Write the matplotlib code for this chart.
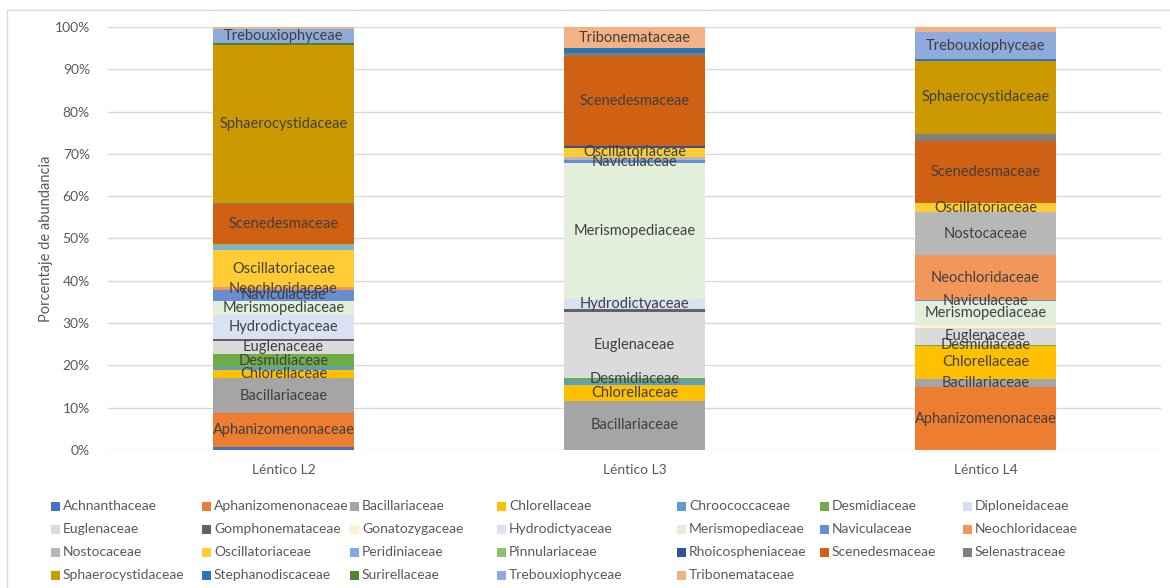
import numpy as np
import matplotlib
matplotlib.use("Agg")
import matplotlib.pyplot as plt
from matplotlib.patches import Rectangle

plt.rcParams["font.family"] = ["Lato", "DejaVu Sans"]

sites = ["Léntico L2", "Léntico L3", "Léntico L4"]

families = [
    "Achnanthaceae", "Aphanizomenonaceae", "Bacillariaceae", "Chlorellaceae",
    "Chroococcaceae", "Desmidiaceae", "Diploneidaceae", "Euglenaceae",
    "Gomphonemataceae", "Gonatozygaceae", "Hydrodictyaceae", "Merismopediaceae",
    "Naviculaceae", "Neochloridaceae", "Nostocaceae", "Oscillatoriaceae",
    "Peridiniaceae", "Pinnulariaceae", "Rhoicospheniaceae", "Scenedesmaceae",
    "Selenastraceae", "Sphaerocystidaceae", "Stephanodiscaceae", "Surirellaceae",
    "Trebouxiophyceae", "Tribonemataceae",
]

colors = [
    "#4472C4", "#ED7D31", "#A5A5A5", "#FFC000",
    "#5B9BD5", "#70AD47", "#D6DFF2", "#DBDBDB",
    "#636363", "#FFF2CC", "#D9E2F3", "#E2EFDA",
    "#698ED0", "#F1975A", "#B7B7B7", "#FFCD33",
    "#7CAFDD", "#8CC168", "#2F5597", "#D06014",
    "#7F7F7F", "#CC9A00", "#2E75B6", "#548235",
    "#8FAADC", "#F4B183",
]

# relative abundance (%) per family, order as in `families`
l2 = [0.64, 8.0, 8.3, 2.0, 0.6, 3.1, 0.0, 3.2, 0.3, 0.0, 5.7, 3.5,
      2.5, 0.6, 0.0, 8.9, 0.95, 0.5, 0.0, 9.4, 0.25, 37.3, 0.0, 0.55,
      3.3, 0.41]
l3 = [0.0, 0.0, 11.6, 3.8, 1.0, 0.55, 0.0, 15.6, 0.7, 0.0, 2.4, 32.1,
      0.8, 0.0, 0.8, 2.0, 0.0, 0.0, 0.4, 21.4, 0.8, 0.0, 1.0, 0.0,
      0.0, 5.05]
l4 = [0.0, 14.8, 2.1, 7.7, 0.0, 0.33, 0.0, 4.0, 0.0, 0.55, 0.0, 5.75,
      0.15, 10.7, 10.1, 2.2, 0.0, 0.0, 0.0, 14.6, 1.75, 17.3, 0.47, 0.0,
      6.2, 1.3]

# families that carry a name label inside each bar
labels_l2 = ["Aphanizomenonaceae", "Bacillariaceae", "Chlorellaceae", "Desmidiaceae",
             "Euglenaceae", "Hydrodictyaceae", "Merismopediaceae", "Naviculaceae",
             "Neochloridaceae", "Oscillatoriaceae", "Scenedesmaceae",
             "Sphaerocystidaceae", "Trebouxiophyceae"]
labels_l3 = ["Bacillariaceae", "Chlorellaceae", "Desmidiaceae", "Euglenaceae",
             "Hydrodictyaceae", "Merismopediaceae", "Naviculaceae",
             "Oscillatoriaceae", "Scenedesmaceae", "Tribonemataceae"]
labels_l4 = ["Aphanizomenonaceae", "Bacillariaceae", "Chlorellaceae", "Desmidiaceae",
             "Euglenaceae", "Merismopediaceae", "Naviculaceae", "Neochloridaceae",
             "Nostocaceae", "Oscillatoriaceae", "Scenedesmaceae",
             "Sphaerocystidaceae", "Trebouxiophyceae"]

data = np.array([l2, l3, l4])
bar_labels = [labels_l2, labels_l3, labels_l4]

fig = plt.figure(figsize=(11.7, 5.88), dpi=100)
ax = fig.add_axes([108 / 1170, 1 - 450 / 588, 1053 / 1170, 423 / 588])

x = np.arange(len(sites))
bottom = np.zeros(len(sites))
for j, fam in enumerate(families):
    vals = data[:, j]
    ax.bar(x, vals, width=0.4, bottom=bottom, color=colors[j], linewidth=0, zorder=2)
    for i in range(len(sites)):
        if fam in bar_labels[i] and vals[i] > 0:
            ax.text(x[i], bottom[i] + vals[i] / 2, fam, ha="center", va="center",
                    fontsize=10.5, color="#404040", zorder=3)
    bottom += vals

ax.set_xlim(-0.5, 2.5)
ax.set_ylim(0, 100)
ax.set_yticks(np.arange(0, 101, 10))
ax.set_yticklabels([f"{v}%" for v in range(0, 101, 10)])
ax.set_xticks(x)
ax.set_xticklabels(sites)
ax.tick_params(axis="both", length=0, labelsize=10, colors="#595959")
ax.tick_params(axis="y", pad=13)
ax.tick_params(axis="x", pad=10)
ax.grid(axis="y", color="#D9D9D9", linewidth=1, zorder=0)
for s in ax.spines.values():
    s.set_visible(False)
ax.set_ylabel("Porcentaje de abundancia", fontsize=10.5, color="#595959", labelpad=1)

# legend in 7 columns below the plot
leg_x = [51, 202, 350, 497, 677, 820, 963]
leg_y = [506, 529, 552, 575]
for k, fam in enumerate(families):
    cx = leg_x[k % 7]
    cy = leg_y[k // 7]
    fig.add_artist(Rectangle((cx / 1170, 1 - (cy + 4.5) / 588), 9 / 1170, 9 / 588,
                             transform=fig.transFigure, color=colors[k], linewidth=0))
    fig.text((cx + 12) / 1170, 1 - cy / 588, fam, ha="left", va="center",
             fontsize=10, color="#595959")

# chart frame
fig.add_artist(Rectangle((7 / 1170, -0.1), 1.2, 1 - 10 / 588 + 0.1,
                         transform=fig.transFigure, fill=False,
                         edgecolor="#D9D9D9", linewidth=1))

fig.savefig("out.png", dpi=100)
